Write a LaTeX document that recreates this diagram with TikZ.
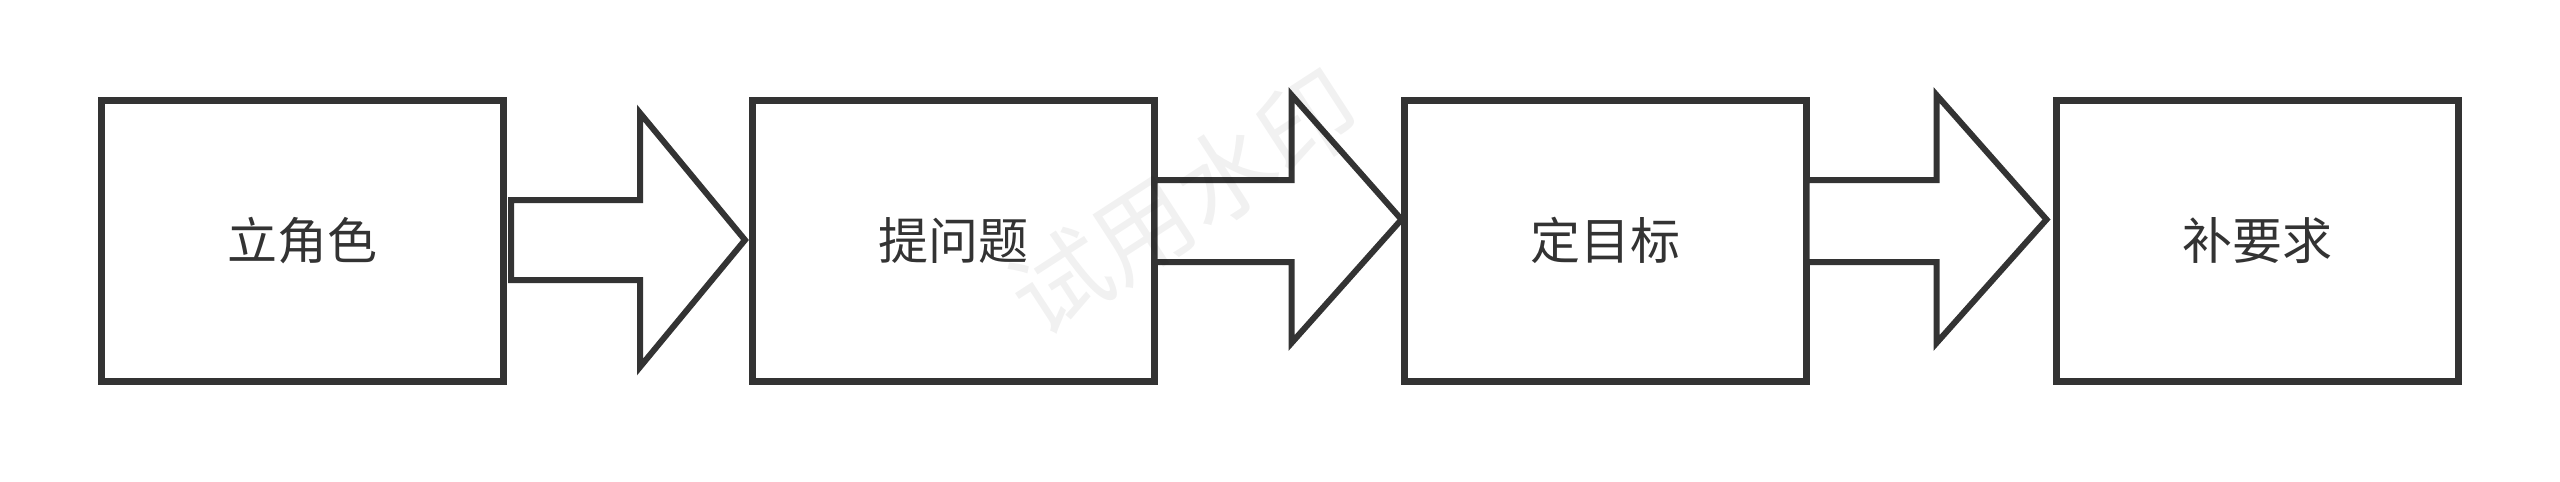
\documentclass[tikz,border=0pt]{standalone}
\usepackage{fontspec}
\newfontfamily\cjk{Noto Sans CJK SC}
\usetikzlibrary{calc}
\definecolor{ink}{HTML}{333333}
\tikzset{
  box/.style={draw=ink, line width=7pt, fill=white, minimum width=402pt, minimum height=281pt,
    inner sep=0pt, outer sep=0pt, text=ink, font=\cjk\fontsize{50}{50}\selectfont},
  fatarrow/.style={draw=ink, line width=6pt, fill=white, line join=miter},
  watermark/.style={text=black, text opacity=0.055, font=\cjk\fontsize{98}{98}\selectfont, rotate=33}
}
\begin{document}
\begin{tikzpicture}[x=1pt, y=-1pt]
\useasboundingbox (0,0) rectangle (2560,482);
\node[box] (b1) at (302,240.5) {立角色};
\node[box] (b2) at (953.5,240.5) {提问题};
\node[box] (b3) at (1605.5,240.5) {定目标};
\node[box] (b4) at (2257.5,240.5) {补要求};
% arrow 1 (slightly lower, starts just right of box 1)
\draw[fatarrow] ($(b1.east)+(8,-40.5)$) -- ($(b1.east)+(137,-40.5)$) -- ($(b1.east)+(137,-127.5)$)
  -- ($(b1.east)+(242,-0.5)$) -- ($(b1.east)+(137,126.5)$) -- ($(b1.east)+(137,39.5)$)
  -- ($(b1.east)+(8,39.5)$) -- cycle;
% arrow 2
\draw[fatarrow] ($(b2.east)+(0,-60.5)$) -- ($(b2.east)+(137,-60.5)$) -- ($(b2.east)+(137,-145.5)$)
  -- ($(b2.east)+(247,-21)$) -- ($(b2.east)+(137,102.5)$) -- ($(b2.east)+(137,21.5)$)
  -- ($(b2.east)+(0,21.5)$) -- cycle;
% arrow 3
\draw[fatarrow] ($(b3.east)+(0,-60.5)$) -- ($(b3.east)+(130,-60.5)$) -- ($(b3.east)+(130,-145.5)$)
  -- ($(b3.east)+(240,-21)$) -- ($(b3.east)+(130,102.5)$) -- ($(b3.east)+(130,21.5)$)
  -- ($(b3.east)+(0,21.5)$) -- cycle;
\node[watermark] (wm) at (1184,202) {试用水印};
\end{tikzpicture}
\end{document}
